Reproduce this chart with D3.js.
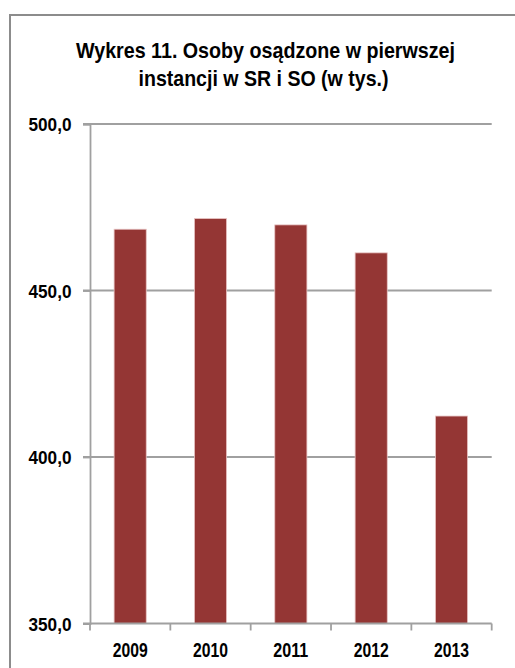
<!DOCTYPE html>
<html>
<head>
<meta charset="utf-8">
<script src="https://cdn.jsdelivr.net/npm/d3@7"></script>
<style>
html,body{margin:0;padding:0;background:#fff;}
svg{display:block;}
</style>
</head>
<body>
<script>
const categories = ["2009", "2010", "2011", "2012", "2013"];
const values = [468.4, 471.6, 469.7, 461.3, 412.3];
const yTicks = [350, 400, 450, 500];
const titleLines = ["Wykres 11. Osoby osądzone w pierwszej", "instancji w SR i SO (w tys.)"];

(function () {
const W = 515, H = 668;
const svg = d3.select("body").append("svg").attr("width", W).attr("height", H);

// outer border
svg.append("rect").attr("x", 10).attr("y", 15).attr("width", 520).attr("height", 680)
  .attr("fill", "none").attr("stroke", "#8c8c8c").attr("stroke-width", 2);

const font = "'Liberation Sans', Arial, sans-serif";

const titleCx = [265.5, 263.5], titleLen = [379, 250], titleY = [57.7, 85.5];
svg.append("g").selectAll("text").data(titleLines).join("text")
  .attr("x", (d, i) => titleCx[i]).attr("y", (d, i) => titleY[i])
  .attr("text-anchor", "middle")
  .attr("font-family", font).attr("font-weight", "bold").attr("font-size", 22)
  .attr("textLength", (d, i) => titleLen[i]).attr("lengthAdjust", "spacingAndGlyphs")
  .attr("fill", "#000")
  .text(d => d);

const pLeft = 90, pRight = 491.7, pTop = 124, pBottom = 623.5;
const x = d3.scaleBand().domain(categories).range([pLeft, pRight]).paddingInner(0.6).paddingOuter(0.3);
const y = d3.scaleLinear().domain([350, 500]).range([pBottom, pTop]);

// gridlines
svg.append("g").selectAll("line").data(yTicks.filter(t => t !== 350)).join("line")
  .attr("x1", pLeft - 7).attr("x2", pRight).attr("y1", d => y(d)).attr("y2", d => y(d))
  .attr("stroke", "#a0a0a0").attr("stroke-width", 1.8);

// bars
svg.append("g").selectAll("rect").data(values).join("rect")
  .attr("x", (d, i) => x(categories[i]))
  .attr("width", x.bandwidth())
  .attr("y", d => y(d))
  .attr("height", d => y(350) - y(d))
  .attr("fill", "#943634")
  .attr("stroke", "#e8c4c4").attr("stroke-width", 0.8);

// y axis
const yAxis = d3.axisLeft(y).tickValues(yTicks).tickSize(7).tickPadding(11.5)
  .tickFormat(d => d3.format(".1f")(d).replace(".", ","));
const gy = svg.append("g").attr("transform", `translate(${pLeft},0)`).call(yAxis);
gy.select(".domain").attr("stroke", "#a0a0a0").attr("stroke-width", 1.8);
gy.selectAll(".tick line").attr("stroke", "#a0a0a0").attr("stroke-width", 1.8);
gy.selectAll(".tick text").attr("font-family", font).attr("font-weight", "bold")
  .attr("font-size", 17.5).attr("fill", "#000")
  .attr("dy", null).attr("y", 6.7)
  .attr("textLength", 43).attr("lengthAdjust", "spacingAndGlyphs");

// x axis
const xAxis = d3.axisBottom(x).tickSize(0).tickPadding(0);
const gx = svg.append("g").attr("transform", `translate(0,${pBottom})`).call(xAxis);
gx.select(".domain").remove();
gx.append("line").attr("x1", pLeft - 7).attr("x2", pRight).attr("y1", 0).attr("y2", 0)
  .attr("stroke", "#a0a0a0").attr("stroke-width", 1.8);
const bnds = categories.map((c, i) => i === 0 ? pLeft : x(c) - x.step() * 0.3).concat([pRight]);
gx.selectAll(".bnd").data(bnds)
  .join("line").attr("class", "bnd")
  .attr("x1", d => d).attr("x2", d => d).attr("y1", 0).attr("y2", 7)
  .attr("stroke", "#a0a0a0").attr("stroke-width", 1.8);
gx.selectAll(".tick text").attr("font-family", font).attr("font-weight", "bold")
  .attr("font-size", 19.5).attr("fill", "#000")
  .attr("dy", null).attr("y", 33.8)
  .attr("textLength", 35).attr("lengthAdjust", "spacingAndGlyphs");
})();
</script>
</body>
</html>
